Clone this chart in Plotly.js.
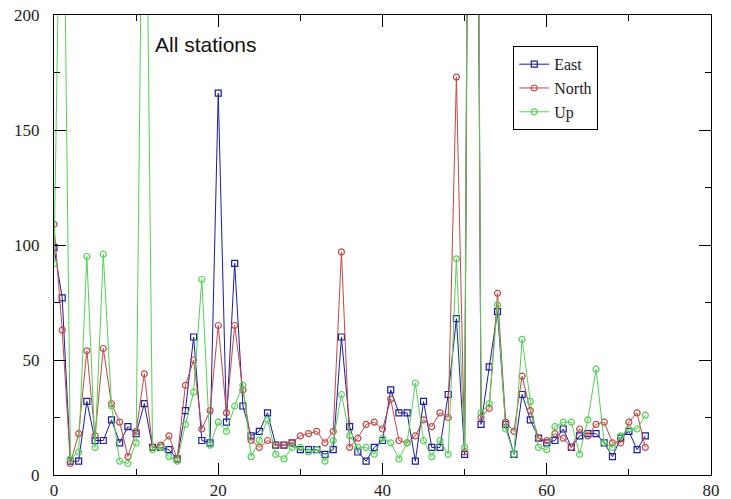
<!DOCTYPE html>
<html>
<head>
<meta charset="utf-8">
<script src="https://cdn.plot.ly/plotly-3.0.1.min.js"></script>
<style>html,body{margin:0;padding:0;background:#fff;}#chart{width:731px;height:499px;}</style>
</head>
<body>
<div id="chart"></div>
<script>
const stationIndex = [0,1,2,3,4,5,6,7,8,9,10,11,12,13,14,15,16,17,18,19,20,21,22,23,24,25,26,27,28,29,30,31,32,33,34,35,36,37,38,39,40,41,42,43,44,45,46,47,48,49,50,51,52,53,54,55,56,57,58,59,60,61,62,63,64,65,66,67,68,69,70,71,72];
const eastValues = [99,77,6,6,32,15,15,24,14,21,18,31,12,12,11,7,28,60,15,14,166,23,92,30,17,19,27,13,13,14,11,11,11,9,11,60,21,10,6,12,15,37,27,27,6,32,12,12,35,68,9,700,22,47,71,22,9,35,24,16,14,15,20,12,17,18,18,14,8,16,19,11,17];
const northValues = [109,63,5,18,54,17,55,31,23,8,19,44,12,13,17,7,39,50,20,28,65,27,65,37,15,12,15,13,13,14,17,18,19,14,19,97,12,16,22,23,20,33,15,14,17,24,21,27,25,173,10,650,25,29,79,23,19,43,28,16,15,18,16,12,20,17,22,23,14,14,23,27,12];
const upValues = [92,320,7,10,95,12,96,30,6,5,14,350,11,12,8,6,22,36,85,13,23,19,30,39,8,15,24,9,7,12,12,10,11,6,15,35,17,12,12,9,16,14,7,14,40,15,8,15,9,94,12,750,27,31,74,20,9,59,32,12,11,21,23,23,9,24,46,14,12,17,20,20,26];
const seriesNames = ["East","North","Up"];
const xTicks = [0,20,40,60,80];
const yTicks = [0,50,100,150,200];
const chartTitle = "All stations";

const colors = ["#1c1c9c","#c04848","#55d055"];
const symbols = ["square-open","circle-open","circle-open"];
const seriesValues = [eastValues, northValues, upValues];
const serif = "Times New Roman, Liberation Serif, serif";

const traces = seriesValues.map((vals, i) => ({
  x: stationIndex,
  y: vals,
  name: seriesNames[i],
  type: "scatter",
  mode: "lines+markers",
  line: {color: colors[i], width: 1},
  marker: {symbol: symbols[i], size: 6, color: colors[i], line: {width: 1.2, color: colors[i]}},
  cliponaxis: true
}));

function makeAxis(range, ticks, minorStep, standoff) {
  return {
    range: range, tickmode: "array", tickvals: ticks, ticktext: ticks.map(String),
    showline: true, linecolor: "#000", linewidth: 1, mirror: "ticks",
    ticks: "inside", ticklen: 12, tickwidth: 1, tickcolor: "#000",
    showgrid: false, zeroline: false,
    tickfont: {family: serif, size: 17, color: "#222"},
    ticklabelstandoff: standoff,
    minor: {ticks: "inside", ticklen: 6, tickwidth: 1, tickcolor: "#000", showgrid: false, dtick: minorStep, tick0: 0}
  };
}

const layout = {
  width: 731, height: 499,
  margin: {l: 54, r: 20, t: 15, b: 24},
  paper_bgcolor: "#fff", plot_bgcolor: "#fff",
  font: {family: serif},
  showlegend: true,
  xaxis: makeAxis([0, 80], xTicks, 10, 0),
  yaxis: makeAxis([0, 200], yTicks, 25, 10),
  legend: {
    x: 0.699, y: 0.932, xanchor: "left", yanchor: "top",
    bgcolor: "#fff", bordercolor: "#000", borderwidth: 1,
    font: {family: serif, size: 16, color: "#222"},
    itemwidth: 30, tracegroupgap: 0
  },
  annotations: [{
    text: chartTitle, xref: "paper", yref: "paper",
    x: 0.15, y: 0.935, xanchor: "left", yanchor: "middle",
    showarrow: false,
    font: {family: "Liberation Sans", size: 21, color: "#111"}
  }]
};

Plotly.newPlot("chart", traces, layout, {displayModeBar: false, staticPlot: true});
</script>
</body>
</html>
